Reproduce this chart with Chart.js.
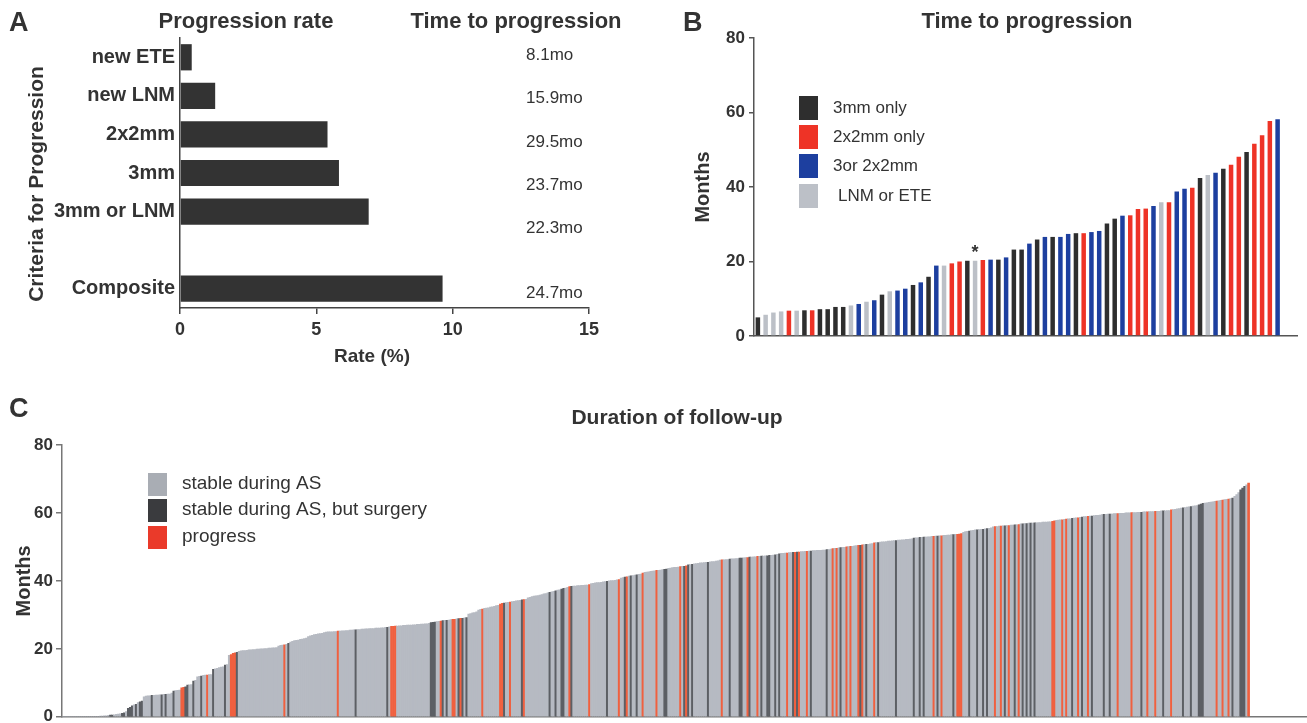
<!DOCTYPE html>
<html><head><meta charset="utf-8">
<script src="https://cdn.jsdelivr.net/npm/chart.js@4.4.0/dist/chart.umd.min.js"></script>
<style>
html,body{margin:0;padding:0;background:#fff;width:1307px;height:723px;overflow:hidden;position:relative;}
.box{position:absolute;}
</style></head><body>
<div class="box" style="left:0;top:0;width:650px;height:370px"><canvas id="cA"></canvas></div>
<div class="box" style="left:650px;top:0;width:657px;height:370px"><canvas id="cB"></canvas></div>
<div class="box" style="left:0;top:370px;width:1307px;height:360px"><canvas id="cC"></canvas></div>
<script>
// ---------- Panel A data ----------
const criteriaLabels = ['new ETE','new LNM','2x2mm','3mm','3mm or LNM','','Composite'];
const progressionRate = [0.43,1.29,5.41,5.83,6.92,null,9.63];
const timeToProgression = ['8.1mo','15.9mo','29.5mo','23.7mo','22.3mo','','24.7mo'];

// ---------- Panel B data ----------
const b_months = [5.0,5.7,6.3,6.6,6.8,6.8,6.9,6.9,7.2,7.2,
  7.8,7.8,8.2,8.6,9.2,9.6,11.1,12.0,12.2,12.7,
  13.7,14.4,15.9,18.9,18.9,19.5,20.0,20.2,20.2,20.4,
  20.5,20.5,21.1,23.2,23.2,24.8,25.9,26.6,26.6,26.6,
  27.4,27.6,27.6,27.9,28.2,30.2,31.5,32.3,32.4,34.1,
  34.2,34.9,35.9,35.9,38.8,39.5,39.8,42.4,43.2,43.8,
  44.9,46.0,48.1,49.4,51.6,53.9,57.7,58.2];
// K = 3mm only, R = 2x2mm only, U = 3or 2x2mm, G = LNM or ETE
const b_group = 'KGGGRGKRKK' + 'KKGUGUKGUU' + 'KUKUGRRKGR' + 'UKUKKUKUKU' + 'UKRUUKKURR' + 'RUGRUURKGU' + 'KRRKRRRU';
const b_legend = ['3mm only','2x2mm only','3or 2x2mm','LNM or ETE'];
const b_asteriskIndex = [28];
const b_emptySlots = 2;

// ---------- Panel C data ----------
const c_months = [
0,0,0,0,0,0,0,0,0,0,0,0,0,0,0,0,0,0,0,
0.2,0.2,0.3,0.3,
0.4,0.5,0.5,0.6,0.7,0.8,0.9,
1.0,1.2,1.5,
2.5,2.8,3.2,
3.5,3.7,
4.2,4.4,4.6,
5.9,6.1,6.2,6.2,6.3,6.3,6.4,6.4,6.5,6.5,6.6,6.6,6.7,6.7,
7.0,
7.6,7.7,7.8,7.9,
8.5,8.7,8.8,
9.3,9.4,9.5,
10.5,10.7,
11.8,11.9,12.0,
12.2,12.3,12.3,12.4,12.4,
14.0,14.1,14.3,
14.5,14.6,14.7,
15.2,15.4,
18.1,18.3,
18.7,18.8,19.0,
19.3,19.4,19.5,19.5,19.6,
19.7,19.7,19.8,19.8,19.9,19.9,20.0,20.0,20.1,20.1,20.2,20.2,20.3,20.3,20.4,
20.8,21.0,21.1,21.2,21.3,21.6,
22.0,22.2,22.4,22.5,22.6,
22.8,22.9,23.0,23.2,
23.6,23.8,24.0,24.2,24.3,24.4,24.5,24.6,
24.8,24.9,25.0,25.0,25.0,25.1,25.1,25.2,25.2,
25.3,25.3,25.4,25.4,25.5,25.5,25.6,25.6,25.7,25.7,25.8,25.8,25.9,25.9,26.0,26.0,26.0,26.1,26.1,26.1,26.2,26.2,26.3,26.3,
26.5,26.6,26.6,26.7,26.7,26.8,26.8,26.9,26.9,27.0,27.0,27.0,27.1,27.1,27.2,27.2,27.3,27.3,27.4,27.4,27.5,
27.7,27.8,27.9,28.0,28.1,28.2,28.3,28.4,28.4,28.5,28.6,28.7,28.7,28.8,28.9,29.0,29.0,29.1,29.2,
30.2,30.4,30.6,30.7,30.9,
31.4,31.6,31.7,31.9,32.0,32.1,32.3,32.4,32.5,32.7,32.8,
33.2,33.4,33.5,33.6,33.7,33.8,33.9,34.0,34.1,34.2,34.3,34.4,34.5,34.6,
35.0,35.2,35.4,35.5,35.6,35.7,35.8,
36.0,36.2,36.3,36.5,36.6,36.8,36.9,37.1,37.3,37.4,37.6,37.8,37.9,38.1,38.3,
38.4,38.5,38.5,38.6,38.6,38.7,38.7,38.8,38.8,38.9,
39.2,39.3,39.4,39.5,39.5,39.6,39.7,39.8,39.9,40.0,40.1,40.1,40.2,40.3,40.4,
40.8,41.0,41.1,41.2,41.4,41.5,41.6,41.7,41.8,41.9,42.0,
42.3,42.5,42.6,42.7,42.8,42.9,43.0,43.1,43.1,43.2,43.3,43.4,43.5,
43.7,43.8,43.9,44.0,44.0,44.1,44.2,44.3,44.3,44.4,
44.7,44.8,44.9,45.0,45.1,45.2,45.3,45.3,45.4,45.5,45.5,45.6,45.7,45.7,45.8,45.9,
46.1,46.2,46.2,46.3,46.3,46.4,46.5,46.5,46.6,46.6,46.7,46.7,46.8,46.9,46.9,47.0,47.0,47.1,47.1,47.2,47.2,47.3,47.3,47.4,47.4,47.5,47.5,47.6,47.7,47.8,
48.0,48.1,48.1,48.2,48.2,48.3,48.3,48.4,48.4,48.5,48.5,48.6,48.6,48.7,48.7,48.8,48.8,48.9,48.9,49.0,49.0,49.0,49.1,49.1,49.2,49.2,
49.4,49.5,49.6,49.6,49.7,49.8,49.9,49.9,50.0,50.1,50.2,50.2,50.3,50.4,50.5,50.5,50.6,50.7,50.8,50.8,50.9,51.0,
51.2,51.3,51.3,51.4,51.5,51.5,51.6,51.7,51.7,51.8,51.9,51.9,52.0,52.0,52.1,52.1,52.2,52.2,52.3,52.4,
52.6,52.7,52.7,52.8,52.8,52.9,52.9,53.0,53.0,53.1,53.1,53.2,53.2,53.3,53.3,53.4,53.4,53.5,53.5,53.6,53.6,53.7,53.7,53.8,53.9,
54.3,54.5,54.6,54.7,54.8,54.9,55.0,55.0,55.1,55.2,55.2,55.3,55.4,55.5,55.6,
55.9,56.0,56.0,56.1,56.1,56.2,56.2,56.3,56.3,56.4,56.4,56.5,56.5,56.6,
56.8,56.8,56.9,56.9,57.0,57.0,57.0,57.1,57.1,57.2,57.2,57.3,57.3,57.3,57.4,57.4,57.5,
57.7,57.8,57.9,58.0,58.0,58.1,58.2,58.3,58.3,58.4,58.5,58.6,58.6,58.7,58.8,58.9,58.9,59.0,59.1,59.1,59.2,59.3,59.3,59.4,59.5,
59.6,59.6,59.7,59.7,59.7,59.8,59.8,59.8,59.9,59.9,59.9,60.0,60.0,60.0,60.1,60.1,60.1,60.2,60.2,60.2,60.3,60.3,60.3,60.4,60.4,60.4,60.5,60.5,60.5,60.6,60.6,60.6,60.7,60.7,
60.9,61.0,61.1,61.2,61.3,61.4,61.5,61.6,61.7,61.8,61.9,62.0,62.1,62.2,62.4,
62.6,62.8,62.9,63.0,63.1,63.2,63.3,63.4,63.5,63.6,63.7,63.8,63.9,64.0,64.1,64.2,64.4,
64.9,65.4,66.0,
66.8,67.3,67.8,68.3,68.8];
// indices of patients (bars) by status; all others are "stable during AS"
const c_surgeryIdx = [24,25,30,31,33,34,35,37,39,40,45,50,52,56,62,63,66,70,76,82,88,114,148,164,186,187,188,192,194,200,202,204,223,232,246,249,252,253,257,275,284,287,290,304,305,314,316,318,326,337,342,343,347,353,356,357,360,362,369,371,378,386,393,403,406,412,421,430,433,435,442,450,458,462,465,467,476,481,485,487,489,491,510,515,520,526,529,545,556,566,570,574,575,576,591,595,596,597];
const c_progressIdx = [60,61,73,85,86,87,112,139,166,167,168,191,197,198,201,212,221,222,226,233,256,266,281,285,293,300,312,315,333,346,351,366,370,372,376,389,391,396,398,402,404,410,440,444,452,453,454,471,474,478,483,500,501,505,507,513,518,533,540,548,552,560,583,586,589,599];
const c_legend = ['stable during AS','stable during AS, but surgery','progress'];
const c_emptySlots = 29;

// ---------- styling ----------
const FONT = '"Liberation Sans", Arial, Helvetica, sans-serif';
const TXT = '#333333';
const B_COLORS = {K:'#2e2e2e', R:'#ee3326', U:'#1d3f9f', G:'#bcc0c7'};
const C_COLORS = {g:'#b6bac2', d:'#5c5f64', r:'#f0603f'};
const C_LEG_COLORS = ['#a9adb4','#3a3b3e','#ea3a2a'];

Chart.defaults.font.family = FONT;
Chart.defaults.color = TXT;

function txt(ctx, s, x, y, font, align, rot) {
  ctx.save();
  ctx.font = font; ctx.fillStyle = TXT;
  ctx.textAlign = align || 'left'; ctx.textBaseline = 'middle';
  ctx.translate(x, y);
  if (rot) ctx.rotate(rot);
  ctx.fillText(s, 0, 0);
  ctx.restore();
}

// ---------- Panel A ----------
const textA = {
  id: 'textA',
  afterDraw(chart) {
    const ctx = chart.ctx;
    const yS = chart.scales.y;
    txt(ctx, 'A', 9, 24, 'bold 27px ' + FONT);
    txt(ctx, 'Progression rate', 246, 22, 'bold 22px ' + FONT, 'center');
    txt(ctx, 'Time to progression', 516, 22, 'bold 22px ' + FONT, 'center');
    txt(ctx, 'Criteria for Progression', 37, 184, 'bold 21px ' + FONT, 'center', -Math.PI / 2);
    txt(ctx, 'Rate (%)', 372, 357, 'bold 19px ' + FONT, 'center');
    const y0 = yS.getPixelForValue(0);
    timeToProgression.forEach((s, i) => {
      if (!s) return;
      const y = i < 5 ? y0 - 2 + i * 43.3 : yS.getPixelForValue(i) + 5;
      txt(ctx, s, 526, y, '17px ' + FONT, 'left');
    });
  }
};
new Chart(document.getElementById('cA'), {
  type: 'bar',
  data: { labels: criteriaLabels, datasets: [{ data: progressionRate, backgroundColor: '#333333', borderWidth: 0, barPercentage: 0.68, categoryPercentage: 1 }] },
  options: {
    indexAxis: 'y', responsive: true, maintainAspectRatio: false, animation: false,
    layout: { padding: { top: 38, right: 61, left: 0, bottom: 0 } },
    plugins: { legend: { display: false }, tooltip: { enabled: false } },
    scales: {
      x: {
        type: 'linear', min: 0, max: 15,
        ticks: { stepSize: 5, font: { size: 18, weight: 'bold' }, color: TXT, padding: 5 },
        grid: { display: true, drawOnChartArea: false, drawTicks: true, tickLength: 6, color: '#444', lineWidth: 1.5 },
        border: { display: true, color: '#444', width: 1.5 },
        afterFit(s) { s.height = 62; }
      },
      y: {
        ticks: { font: { size: 20, weight: 'bold' }, color: TXT, padding: 5, autoSkip: false },
        grid: { display: false, drawTicks: false, tickLength: 0 },
        border: { display: true, color: '#444', width: 1.5 },
        afterFit(s) { s.width = 180; }
      }
    }
  },
  plugins: [textA]
});

// ---------- Panel B ----------
const b_codes = b_group.split('');
const b_slots = b_months.map((_, i) => String(i + 1)).concat(Array(b_emptySlots).fill(''));
const legendCodes = ['K','R','U','G'];
const textB = {
  id: 'textB',
  afterDraw(chart) {
    const ctx = chart.ctx;
    txt(ctx, 'B', 33, 24, 'bold 27px ' + FONT);
    txt(ctx, 'Time to progression', 377, 22, 'bold 22px ' + FONT, 'center');
    const ys = [108, 137, 166, 196];
    b_legend.forEach((s, i) => {
      ctx.fillStyle = B_COLORS[legendCodes[i]];
      ctx.fillRect(149, ys[i] - 12, 19, 24);
      txt(ctx, s, i === 3 ? 188 : 183, ys[i], '17px ' + FONT);
    });
    const xs = chart.scales.x, yS = chart.scales.y;
    b_asteriskIndex.forEach(i => {
      txt(ctx, '*', xs.getPixelForValue(i), yS.getPixelForValue(b_months[i]) - 8, 'bold 18px ' + FONT, 'center');
    });
  }
};
new Chart(document.getElementById('cB'), {
  type: 'bar',
  data: { labels: b_slots, datasets: [{ data: b_months, backgroundColor: b_codes.map(c => B_COLORS[c]), borderWidth: 0, barPercentage: 0.58, categoryPercentage: 1 }] },
  options: {
    responsive: true, maintainAspectRatio: false, animation: false,
    layout: { padding: { top: 38, right: 10, left: 0, bottom: 0 } },
    plugins: { legend: { display: false }, tooltip: { enabled: false } },
    scales: {
      x: {
        ticks: { display: false }, grid: { display: false },
        border: { display: true, color: '#555', width: 1.5 },
        afterFit(s) { s.height = 34; }
      },
      y: {
        min: 0, max: 80,
        ticks: { stepSize: 20, font: { size: 17, weight: 'bold' }, color: TXT, padding: 4 },
        grid: { display: true, drawOnChartArea: false, drawTicks: true, tickLength: 5, color: '#555', lineWidth: 1.5 },
        border: { display: true, color: '#555', width: 1.5 },
        title: { display: true, text: 'Months', font: { size: 20, weight: 'bold' }, color: TXT, padding: { top: 41, bottom: 0 } },
        afterFit(s) { s.width = 104; }
      }
    }
  },
  plugins: [textB]
});

// ---------- Panel C ----------
const c_status = c_months.map((_, i) => c_progressIdx.includes(i) ? 'r' : (c_surgeryIdx.includes(i) ? 'd' : 'g'));
const c_slots = c_months.map((_, i) => String(i + 1)).concat(Array(c_emptySlots).fill(''));
const textC = {
  id: 'textC',
  afterDraw(chart) {
    const ctx = chart.ctx;
    txt(ctx, 'C', 9, 40, 'bold 27px ' + FONT);
    txt(ctx, 'Duration of follow-up', 677, 48, 'bold 21px ' + FONT, 'center');
    const ys = [114, 140, 167];
    c_legend.forEach((s, i) => {
      ctx.fillStyle = C_LEG_COLORS[i];
      ctx.fillRect(148, ys[i] - 11, 19, 23);
      txt(ctx, s, 182, ys[i], '19px ' + FONT);
    });
  }
};
new Chart(document.getElementById('cC'), {
  type: 'bar',
  data: { labels: c_slots, datasets: [{ data: c_months, backgroundColor: c_status.map(c => C_COLORS[c]), borderWidth: 0, barPercentage: 1, categoryPercentage: 1 }] },
  options: {
    responsive: true, maintainAspectRatio: false, animation: false,
    layout: { padding: { top: 75, right: 0, left: 0, bottom: 0 } },
    plugins: { legend: { display: false }, tooltip: { enabled: false } },
    scales: {
      x: {
        ticks: { display: false }, grid: { display: false },
        border: { display: true, color: '#777', width: 1.5 },
        afterFit(s) { s.height = 12; }
      },
      y: {
        min: 0, max: 80,
        ticks: { stepSize: 20, font: { size: 17, weight: 'bold' }, color: TXT, padding: 3 },
        grid: { display: true, drawOnChartArea: false, drawTicks: true, tickLength: 6, color: '#777', lineWidth: 1.5 },
        border: { display: true, color: '#777', width: 1.5 },
        title: { display: true, text: 'Months', font: { size: 20, weight: 'bold' }, color: TXT, padding: { top: 12, bottom: 0 } },
        afterFit(s) { s.width = 62; }
      }
    }
  },
  plugins: [textC]
});
</script>
</body></html>
